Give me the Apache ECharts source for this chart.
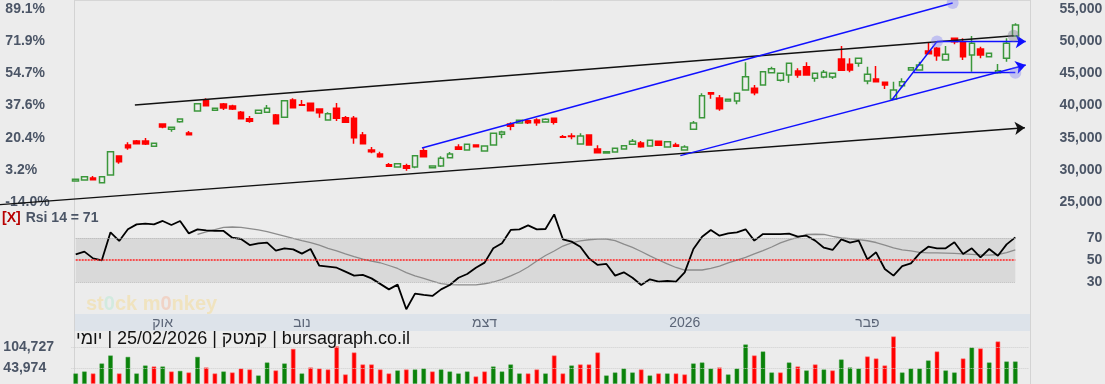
<!DOCTYPE html>
<html><head><meta charset="utf-8">
<script src="https://cdn.jsdelivr.net/npm/echarts@6/dist/echarts.min.js"></script>
<style>html,body{margin:0;padding:0;background:#ececec}#c{width:1105px;height:384px}</style>
</head><body><div id="c"></div>
<script>
// ---- trading days (categories) ----
const sepDays = [14,15,16,17,18,21,25,28,29,30];
const octDays = [5,8,9,12,15,16,19,20,21,22,23,26,27,28,29,30];
const novDays = [2,3,4,5,6,9,10,11,12,13,16,17,18,19,20,23,24,25,26,27,30];
const decDays = [1,2,3,4,7,8,9,10,11,14,15,16,17,18,21,22,23,24,25,28,29,30,31];
const janDays = [1,5,6,7,8,9,12,13,14,15,16,19,20,21,22,23,26,27,28,29,30];
const febDays = [2,3,4,5,6,9,10,11,12,13,16,17,18,19,20,23,24,25];
const monthLabels = {'2025-10':'אוק','2025-11':'נוב','2025-12':'דצמ','2026-01':'2026','2026-02':'פבר'};

// ---- OHLC ----
const open = [28250,28420,28730,28000,29200,32150,33860,34480,34480,33660,
37120,36300,37480,35720,39140,40850,39250,40230,39920,38940,
37950,38790,38940,38520,38170,40850,40110,40340,39460,37750,
39560,38100,38010,35410,33080,32460,30800,30440,30640,30440,
32970,30330,30590,31880,33550,33080,33860,32930,33860,35520,
37120,37280,37640,37750,37430,38010,35150,35260,34010,35410,
33240,32620,32770,33240,33970,34170,33700,34430,33550,33860,
33080,36300,38100,41990,41170,40700,40700,42410,42670,43190,
45100,43920,44740,45360,46030,44230,44430,44430,47230,46400,
46560,43810,44120,43600,41010,43080,45520,45520,48470,48890,
47070,50450,49920,47850,48780,47590,45100,47340,50800];
const close = [28550,28930,28470,28930,32820,31260,33440,34060,34010,34120,
36660,36610,37900,35460,40280,39970,39560,39610,39460,37950,
37540,39250,39560,37170,40750,39660,40030,39190,38880,38720,
38010,37390,34990,34060,32820,32040,30550,30950,30240,32200,
32040,30590,31790,32460,33190,33970,33600,33700,35680,35880,
36770,37700,37330,37330,37850,37390,35060,35180,35260,33860,
32660,32820,33350,33750,34430,33600,34590,33810,34370,33660,
33550,37280,41520,41790,39500,40960,41900,44480,41990,45250,
45720,45000,46560,44740,44740,45000,45160,45000,45470,45520,
47340,44850,43700,43190,42410,43700,45880,46300,48050,47740,
47960,49920,47590,49670,47850,48110,45410,49670,52510];
const low = [28200,28400,28420,27950,29150,30950,33130,33950,33860,33550,
36450,35930,37320,35400,39100,39900,39200,39300,39300,37900,
37320,38700,38900,37100,38100,39600,40000,39150,38100,37700,
37590,37300,34060,34000,32570,31880,30500,30400,29860,30240,
32000,30280,30440,31850,33150,33050,33550,32900,33800,34900,
36140,37200,37120,36860,37400,37050,35000,34750,33950,33800,
32620,32580,32730,33200,33930,33440,33650,33780,33500,33620,
33050,36250,38050,41060,39190,40650,40190,42350,41590,43150,
45050,43730,43540,44320,44700,43700,44230,44120,45420,45160,
46030,43290,43650,42560,40850,42720,45470,45470,48000,46960,
47030,49510,47070,45250,47340,47540,44940,46810,50750];
const high = [28650,28980,29040,28980,32900,32200,34280,34640,34950,34200,
37200,36700,38000,36040,40350,41120,39650,40390,40120,39140,
38370,39300,40080,38680,40800,41120,40850,40400,39500,38940,
40390,38370,38370,35880,33550,32820,31060,31000,30950,32250,
33350,30650,32100,32770,33970,34000,33900,33750,35720,36080,
37390,37750,37700,38010,38010,38050,35410,35680,35680,35450,
33810,32850,33400,33800,34790,34480,34650,34480,34420,34220,
33810,37590,41900,42030,41630,41000,41950,46710,43190,45300,
46030,45050,46600,45780,46710,45050,45520,45050,49250,47340,
47380,46030,46140,43650,43700,44230,45920,46810,49820,49090,
49250,50490,50450,50800,49140,48160,46450,50450,52780];

// ---- volume (1 = up/green, 0 = down/red) ----
const volume = [30300,35900,30300,58600,81200,30300,77300,30300,52900,50100,
50100,35900,37600,33100,77300,47300,30300,35900,33100,44400,
41600,24600,61400,38800,58600,99900,30300,47300,44400,41600,
107000,27500,89700,55800,55800,41600,30300,38800,41600,41600,
44400,35900,41600,35900,30300,35900,21800,35900,50100,35900,
55800,30300,30300,41600,30300,81200,30300,52900,55800,55800,
89700,24600,33100,44400,33100,41600,24600,30300,30300,30300,
27500,58600,61400,44400,47300,27500,44400,112400,81200,92500,
33100,33100,61400,50100,38800,55800,41600,38800,69900,47300,
44400,78400,72700,52900,135000,33100,44400,44400,67100,92500,
38800,33100,72700,103900,101000,61400,120800,64200,64200];
const volumeUp = [1,1,0,1,1,0,1,1,1,0, 1,0,1,0,1,0,0,1,0,0,
0,1,1,0,1,0,1,0,0,0, 0,0,0,0,0,0,0,1,0,1,
1,0,1,1,1,1,0,0,1,1, 1,1,0,0,1,0,0,1,0,0,
0,1,1,1,1,0,1,0,1,0, 0,1,1,1,0,1,1,1,0,1,
1,0,1,0,1,0,1,0,1,1, 1,0,0,0,0,1,1,1,1,0,
1,1,0,1,0,1,0,1,1];

// ---- RSI 14 and its average ----
const rsi = [55.2,57.6,51.5,49.7,75.2,67.3,77.9,82.4,83.0,82.4,
85.5,81.8,85.5,74.2,77.9,77.0,76.4,76.4,70.3,69.1,
63.6,65.2,65.8,58.5,60.6,59.7,55.8,60.0,44.8,43.9,
43.0,39.4,35.8,36.4,33.3,28.3,23.3,27.6,5.2,19.4,
18.2,17.3,23.3,27.3,33.9,37.3,43.0,47.6,60.6,65.2,
77.3,77.9,81.5,77.9,78.2,91.5,68.8,66.7,62.1,51.5,
45.5,46.4,35.8,38.8,33.9,27.3,32.4,30.3,30.9,30.3,
38.8,60.0,71.2,77.3,72.1,74.2,75.2,77.9,67.6,73.6,
73.6,73.6,73.9,71.2,72.1,67.6,61.2,59.1,68.8,65.8,
67.6,50.6,57.0,41.8,35.8,44.5,47.0,56.1,62.1,60.6,
60.6,66.1,55.5,60.6,52.4,60.0,53.9,64.2,70.6];
const rsiAvg = [null,null,null,null,null,null,null,null,null,null,null,null,null,null,
73.4,75.5,77.7,79.7,80.0,79.7,78.6,77.3,75.7,73.8,
71.8,69.7,67.7,65.9,63.5,60.6,58.2,55.6,53.1,50.7,
48.9,47.5,45.0,42.3,38.6,35.5,33.2,30.9,28.6,27.7,
27.3,27.3,27.3,28.4,30.0,32.3,35.5,39.1,43.6,49.1,
54.1,58.2,62.7,65.5,67.3,68.4,68.9,69.1,67.7,64.5,
61.4,57.7,53.8,50.0,46.4,43.2,40.9,40.9,40.9,42.3,
44.5,47.3,49.8,52.3,55.5,58.6,61.8,65.5,68.2,70.6,
73.2,73.4,73.2,71.4,70.0,69.3,68.6,67.5,65.9,63.6,
61.1,59.3,58.2,57.0,56.5,56.4,56.2,56.0,55.6,55.2,
54.7,54.5,55.0,56.8,59.1];

// ---- axis tick labels ----
const pctLabels = ['-14.0%','3.2%','20.4%','37.6%','54.7%','71.9%','89.1%'];
const volumeTicks = [43974,104727];
const rsiTicks = [30,50,70];
const rsiBand = [30,70];
const rsiMid = 50;

// ---- drawn trend lines: [trading-day index, price] ----
const trendBlack = [[[6.8,40080],[107.8,50850]]];
const trendBlackArrow = [[[-8.7,24590],[109.1,36550]]];
const trendBlue = [[[39.8,33390],[100.8,55930]],[[93.8,40850],[99.0,49950]],[[96.3,45130],[108.0,45130]]];
const trendBlueArrow = [[[69.5,32200],[109.2,46300]],[[99.0,49950],[109.2,49950]]];
const handlesBlue = [[99.0,49950],[100.8,55930],[108.0,45100]];
const handlesGray = [[107.8,50850]];

const headline = 'יומי\u200E | 25/02/2026 | \u200Eקמטק\u200E | bursagraph.co.il';

// ---- build ----
const dates = [];
[['2025-09',sepDays],['2025-10',octDays],['2025-11',novDays],['2025-12',decDays],['2026-01',janDays],['2026-02',febDays]]
  .forEach(([m,days]) => days.forEach(d => dates.push(m + '-' + String(d).padStart(2,'0'))));
const categories = dates.concat(['']);
const N = categories.length;
const isMonthStart = i => i > 0 && i < dates.length && dates[i].slice(0,7) !== dates[i-1].slice(0,7);

const FONT = 'Liberation Sans, Arial, sans-serif';
const LBL = '#4b5566';
const GL = 71.35, GW = 957;

const candles = dates.map((d,i) => [open[i], close[i], low[i], high[i]]);
const volData = volume.map((v,i) => ({value: v, itemStyle: volumeUp[i]
  ? {color:'#0a820a', borderColor:'rgba(60,160,60,0.45)'}
  : {color:'#ff0000', borderColor:'rgba(255,110,110,0.55)'}}));

function trendSeries(list, color, arrow) {
  return {type:'lines', coordinateSystem:'cartesian2d', xAxisIndex:3, yAxisIndex:0,
    clip:false, silent:true, z:5, animation:false,
    symbol: arrow ? ['none','arrow'] : ['none','none'], symbolSize: arrow ? 10 : 0,
    lineStyle:{color: color, width:1.4, opacity:1, curveness:0},
    data: list.map(c => ({coords: c}))};
}

const chart = echarts.init(document.getElementById('c'), null, {renderer:'canvas'});
const hideAxis = {axisLine:{show:false}, axisTick:{show:false}, splitLine:{show:false}};

chart.setOption({
  animation:false,
  backgroundColor:'#ececec',
  textStyle:{fontFamily:FONT},
  title:[
    {text: headline, left:76, top:330, padding:0,
     textStyle:{fontSize:18, fontWeight:'normal', color:'#111', fontFamily:FONT}},
    {text: '{x|[X]} {t|Rsi 14 = ' + Math.round(rsi[rsi.length-1]) + '}', left:2, top:209, padding:0,
     textStyle:{rich:{x:{color:'#b80000', fontSize:14, fontFamily:FONT},
                      t:{color:LBL, fontSize:14, fontFamily:FONT}}}}
  ],
  graphic:{elements:[
    {type:'rect', z:-1, silent:true, shape:{x:75, y:314, width:955, height:17}, style:{fill:'#dde3ea'}},
    {type:'line', z:-1, silent:true, shape:{x1:74.5, y1:0, x2:74.5, y2:384}, style:{stroke:'#d3d3d3', lineWidth:1}},
    {type:'line', z:-1, silent:true, shape:{x1:1030.5, y1:0, x2:1030.5, y2:384}, style:{stroke:'#d3d3d3', lineWidth:1}},
    {type:'line', z:-1, silent:true, shape:{x1:75, y1:0.5, x2:1030, y2:0.5}, style:{stroke:'#d6d6d6', lineWidth:1}},
    {type:'text', z:-1, silent:true, left:86, top:294,
     style:{text:'st{a|0}ck m{b|0}nkey', font:'bold 20px ' + FONT, fill:'#f0e3bf',
            rich:{a:{fill:'#d2eadf', font:'bold 20px ' + FONT}, b:{fill:'#f0d3c6', font:'bold 20px ' + FONT}}}}
  ]},
  grid:[
    {left:GL, top:9, width:GW, height:193, outerBoundsMode:'none'},
    {left:GL, top:205, width:GW, height:110, outerBoundsMode:'none'},
    {left:GL, top:331, width:GW, height:53, outerBoundsMode:'none'}
  ],
  xAxis:[
    Object.assign({type:'category', gridIndex:0, data:categories, axisLabel:{show:false}}, hideAxis),
    Object.assign({type:'category', gridIndex:1, data:categories,
      axisLabel:{interval:(i) => isMonthStart(i), formatter:(v) => monthLabels[String(v).slice(0,7)] || '',
                 color:'#5b6577', fontSize:14, margin:1, fontFamily:FONT}}, hideAxis),
    Object.assign({type:'category', gridIndex:2, data:categories, axisLabel:{show:false}}, hideAxis),
    Object.assign({type:'value', gridIndex:0, position:'top', min:-0.5, max:N-0.5, show:false}, hideAxis)
  ],
  yAxis:[
    Object.assign({type:'value', gridIndex:0, position:'right', min:25000, max:55000, interval:5000,
      axisLabel:{formatter:(v) => v.toLocaleString('en-US'), align:'right', margin:74,
                 color:LBL, fontSize:14, fontWeight:'bold', fontFamily:FONT}}, hideAxis),
    Object.assign({type:'value', gridIndex:0, position:'left', min:25000, max:55000, interval:5000,
      axisLabel:{formatter:(v) => pctLabels[Math.round((v-25000)/5000)], align:'left', margin:66,
                 color:LBL, fontSize:14, fontWeight:'bold', fontFamily:FONT}}, hideAxis),
    Object.assign({type:'value', gridIndex:1, position:'right', min:0, max:100, interval:10,
      axisLabel:{formatter:(v) => rsiTicks.indexOf(v) >= 0 ? String(v) : '', align:'right', margin:74,
                 color:LBL, fontSize:14, fontWeight:'bold', fontFamily:FONT}}, hideAxis),
    Object.assign({type:'value', gridIndex:2, position:'left', min:0, max:150000,
      axisLabel:{customValues:volumeTicks, formatter:(v) => v.toLocaleString('en-US'), align:'left', margin:68,
                 color:LBL, fontSize:14, fontWeight:'bold', fontFamily:FONT}}, hideAxis)
  ],
  series:[
    {type:'candlestick', xAxisIndex:0, yAxisIndex:0, data:candles, barWidth:6, silent:true,
     itemStyle:{color:'rgba(0,0,0,0)', color0:'#ff0000', borderColor:'#3b973b', borderColor0:'#ff0000', borderWidth:1.5}},
    trendSeries(trendBlack, '#111111', false),
    trendSeries(trendBlackArrow, '#111111', true),
    trendSeries(trendBlue, '#1010ff', false),
    trendSeries(trendBlueArrow, '#1010ff', true),
    {type:'scatter', xAxisIndex:3, yAxisIndex:0, clip:false, silent:true, z:6, symbolSize:12,
     itemStyle:{color:'rgba(110,110,250,0.42)'}, data:handlesBlue},
    {type:'scatter', xAxisIndex:3, yAxisIndex:0, clip:false, silent:true, z:6, symbolSize:12,
     itemStyle:{color:'rgba(120,120,140,0.5)'}, data:handlesGray},
    // RSI panel
    {type:'line', xAxisIndex:1, yAxisIndex:2, data:rsiAvg, symbol:'none', silent:true, z:3,
     lineStyle:{color:'#8c8c8c', width:1.3},
     markArea:{silent:true, itemStyle:{color:'#d9d9d9'},
       data:[[{xAxis:dates[0], yAxis:rsiBand[0]}, {xAxis:dates[dates.length-1], yAxis:rsiBand[1]}]]},
     markLine:{silent:true, symbol:['none','none'], label:{show:false},
       data:[
         [{coord:[dates[0], rsiBand[1]], lineStyle:{color:'#b5b5b5', type:'dotted', width:1}}, {coord:[dates[dates.length-1], rsiBand[1]]}],
         [{coord:[dates[0], rsiBand[0]], lineStyle:{color:'#b5b5b5', type:'dotted', width:1}}, {coord:[dates[dates.length-1], rsiBand[0]]}],
         [{coord:[dates[0], rsiMid], lineStyle:{color:'#ff2020', type:[2,1], width:1.6}}, {coord:[dates[dates.length-1], rsiMid]}]
       ]}},
    {type:'line', xAxisIndex:1, yAxisIndex:2, data:rsi, symbol:'none', silent:true, z:4,
     lineStyle:{color:'#000', width:1.8}},
    // volume
    {type:'line', xAxisIndex:2, yAxisIndex:3, data:[], silent:true, z:1,
     markLine:{silent:true, symbol:['none','none'], label:{show:false},
       lineStyle:{color:'#cfcfcf', type:'dotted', width:1},
       data: volumeTicks.map(v => ({yAxis:v}))}},
    {type:'bar', xAxisIndex:2, yAxisIndex:3, data:volData, barWidth:5, silent:true, z:2,
     itemStyle:{borderWidth:1}}
  ]
});
</script></body></html>
